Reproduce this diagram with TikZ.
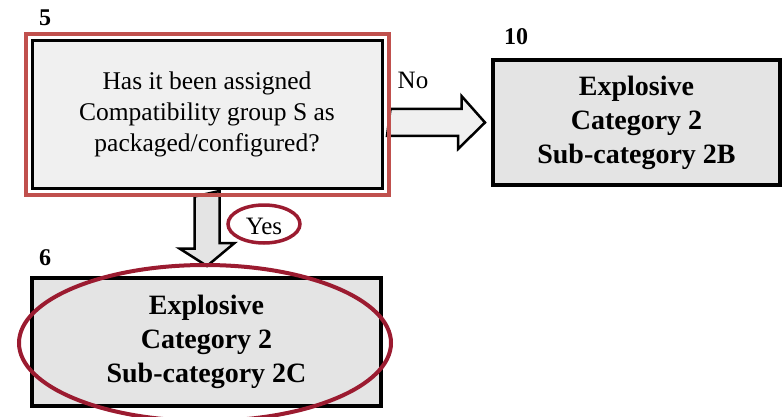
\documentclass[tikz,border=0pt]{standalone}
\usepackage{fontspec}
\setmainfont{LiberationSerif-Regular.ttf}[BoldFont=LiberationSerif-Bold.ttf]
\usepackage{xcolor}
\usetikzlibrary{calc,positioning,fit,shapes.geometric,backgrounds}
\definecolor{boxred}{HTML}{C0504D}
\definecolor{ringred}{HTML}{9B1B30}
\definecolor{lightfill}{HTML}{F0F0F0}
\definecolor{midfill}{HTML}{E4E4E4}

\begin{document}
\begin{tikzpicture}[x=1pt,y=-1pt,
  qbox/.style={draw=black,line width=3pt,fill=lightfill,align=center,
    font=\fontsize{25.5}{31}\selectfont},
  resbox/.style={draw=black,line width=4pt,fill=midfill,align=center,
    font=\fontsize{28}{34}\selectfont\bfseries},
  num/.style={font=\fontsize{24}{24}\selectfont\bfseries,inner sep=0pt},
  ans/.style={font=\fontsize{25}{25}\selectfont,inner sep=0pt},
  fat/.style={draw=black,line width=2.5pt,fill=lightfill,line join=miter},
  ring/.style={ellipse,draw=ringred,line width=4pt}]
\useasboundingbox (0,0) rectangle (784,417);

% --- Question 5 with its highlight frame ---
\node[qbox,minimum width=350,minimum height=147] (q5) at (207,114.5)
  {Has it been assigned\\Compatibility group S as\\packaged/configured?};
\node[draw=boxred,line width=4pt,fit=(q5),inner sep=5pt] (r5) {};
\node[num] (n5) at (45,18) {5};

% --- Outcomes 10 and 6 ---
\node[resbox,minimum width=287,minimum height=125] (b10) at (636.5,122.5)
  {Explosive\\Category 2\\Sub-category 2B};
\node[num] (n10) at (516,37) {10};
\node[resbox,minimum width=349,minimum height=128] (b6) at (206.5,342)
  {Explosive\\Category 2\\Sub-category 2C};
\node[num] (n6) at (45,258) {6};

% --- Block arrows (behind the frame) ---
\begin{pgfonlayer}{background}
  \draw[fat] ($(r5.east |- b10.west)+(0,-13.5)$) -- ++(71,0) -- ++(0,-13)
    -- ($(b10.west)+(-6,0)$) -- ++(-27,26.5) -- ++(0,-13) -- ++(-71,0) -- cycle;
  \draw[fat,fill=midfill] ($(r5.south)+(-12.5,0)$) -- ++(0,52) -- ++(-15,0)
    -- ($(b6.north)+(0.5,-10)$) -- ++(27.5,-23) -- ++(-15,0) -- ++(0,-52) -- cycle;
\end{pgfonlayer}

% --- Answers ---
\node[ans] (no) at (413,80) {No};
\node[ans] (yes) at (264,226) {Yes};
\node[ring,line width=3.5pt,minimum width=72,minimum height=38] (ryes) at (264,224) {};
\node[ring,minimum width=372,minimum height=156] (r6) at (205,343) {};

\end{tikzpicture}
\end{document}
